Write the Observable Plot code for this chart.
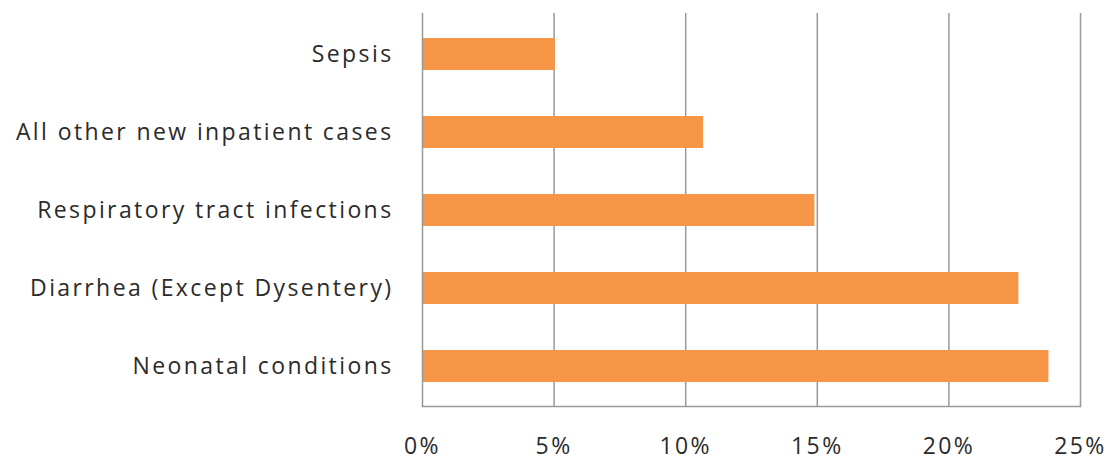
<!DOCTYPE html>
<html>
<head>
<meta charset="utf-8">
<script src="https://cdn.jsdelivr.net/npm/d3@7"></script>
<script src="https://cdn.jsdelivr.net/npm/@observablehq/plot@0.6"></script>
<style>
  html, body { margin: 0; padding: 0; background: #fff; }
  #chart svg { display: block; overflow: visible; }
  #chart svg text { letter-spacing: 2.4px; }
</style>
</head>
<body>
<div id="chart"></div>
<script>
const categories = [
  "Sepsis",
  "All other new inpatient cases",
  "Respiratory tract infections",
  "Diarrhea (Except Dysentery)",
  "Neonatal conditions"
];
const values = [5.05, 10.68, 14.91, 22.66, 23.8];
const xTicks = [0, 5, 10, 15, 20, 25];

const data = categories.map((c, i) => ({category: c, value: values[i]}));

const chart = Plot.plot({
  width: 1113,
  height: 461,
  marginLeft: 422,
  marginRight: 33,
  marginTop: 13,
  marginBottom: 55,
  style: {fontFamily: "'Open Sans', sans-serif", fontSize: "23px", color: "#2b2b2b", background: "#fff"},
  x: {domain: [0, 25], ticks: xTicks, tickFormat: d => d + "%", tickSize: 0, tickPadding: 31, label: null},
  y: {domain: categories, paddingInner: 0.59, paddingOuter: 0.295, tickSize: 0, tickPadding: 29, label: null},
  marks: [
    Plot.ruleX(xTicks.slice(1), {stroke: "#999", strokeWidth: 1.5}),
    Plot.barX(data, {x: "value", y: "category", fill: "#F79646"}),
    Plot.ruleX([0], {stroke: "#999", strokeWidth: 1.5}),
    Plot.frame({anchor: "bottom", stroke: "#999", strokeWidth: 1.5})
  ]
});
document.getElementById("chart").appendChild(chart);
</script>
</body>
</html>
